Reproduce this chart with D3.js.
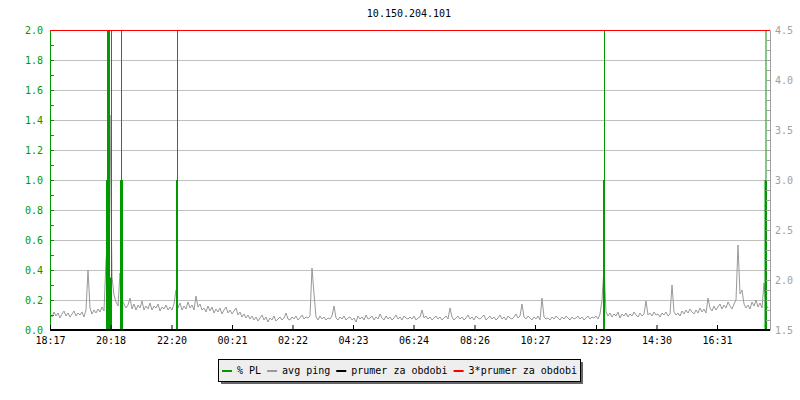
<!DOCTYPE html>
<html>
<head>
<meta charset="utf-8">
<script src="https://cdn.jsdelivr.net/npm/d3@7"></script>
<style>
  body { margin: 0; background: #ffffff; }
  text { font-family: "DejaVu Sans Mono", monospace; font-size: 10px; }
</style>
</head>
<body>
<div id="chart"></div>
<script>
const title = '10.150.204.101';
const startTime = new Date(2020, 0, 1, 18, 17);
const endTime = new Date(2020, 0, 2, 18, 17);

// x tick positions in minutes after start, with their labels
const tickMinutes = [0, 121, 243, 364, 485, 606, 727, 849, 970, 1092, 1213, 1334];
const tickLabels = ['18:17', '20:18', '22:20', '00:21', '02:22', '04:23', '06:24', '08:26', '10:27', '12:29', '14:30', '16:31'];

// packet loss, % (step series, minutes after start)
const plMinutes = [0, 112, 114, 120, 122, 124, 140, 142, 144, 146, 252, 254, 256, 1106, 1108, 1110, 1429, 1431, 1433, 1434, 1440];
const plValues  = [0, 1,   3,   0.35, 3,  0,   1,   3,   1,   0,   1,   3,   0,   1,    3,    0,    1,    3,    1,    0,    0];

// avg ping, ms, one sample every 4 minutes
const pingStepMinutes = 4;
const pingValues = [
  1.66, 1.63, 1.68, 1.64, 1.67, 1.62, 1.66, 1.69, 1.64, 1.67,
  1.63, 1.66, 1.69, 1.64, 1.67, 1.65, 1.68, 1.63, 1.70, 2.10,
  1.72, 1.66, 1.70, 1.67, 1.71, 1.68, 1.73, 1.69, 2.20, 2.43,
  3.65, 2.03, 1.85, 1.78, 1.74, 2.07, 1.80, 1.76, 1.72, 1.75,
  1.82, 1.71, 1.76, 1.70, 1.75, 1.72, 1.79, 1.70, 1.74, 1.71,
  1.77, 1.70, 1.74, 1.72, 1.76, 1.69, 1.73, 1.71, 1.75, 1.70,
  1.73, 1.70, 1.76, 1.90, 1.72, 1.77, 1.70, 1.74, 1.71, 1.78,
  1.72, 1.75, 1.70, 1.84, 1.73, 1.76, 1.70, 1.72, 1.68, 1.74,
  1.69, 1.73, 1.67, 1.71, 1.68, 1.72, 1.66, 1.70, 1.73, 1.67,
  1.70, 1.66, 1.69, 1.72, 1.65, 1.68, 1.63, 1.66, 1.62, 1.65,
  1.61, 1.64, 1.60, 1.63, 1.59, 1.62, 1.65, 1.60, 1.63, 1.58,
  1.62, 1.60, 1.64, 1.59, 1.61, 1.63, 1.60, 1.62, 1.67, 1.61,
  1.60, 1.63, 1.61, 1.64, 1.60, 1.62, 1.65, 1.61, 1.63, 1.62,
  1.64, 2.12, 1.86, 1.63, 1.60, 1.64, 1.61, 1.63, 1.60, 1.62,
  1.61, 1.64, 1.74, 1.62, 1.60, 1.63, 1.61, 1.64, 1.60, 1.62,
  1.63, 1.60, 1.62, 1.58, 1.64, 1.61, 1.63, 1.60, 1.65, 1.61,
  1.62, 1.64, 1.60, 1.63, 1.61, 1.66, 1.62, 1.60, 1.64, 1.61,
  1.63, 1.60, 1.62, 1.65, 1.61, 1.63, 1.60, 1.64, 1.62, 1.61,
  1.63, 1.61, 1.64, 1.60, 1.62, 1.63, 1.70, 1.62, 1.64, 1.61,
  1.63, 1.60, 1.62, 1.64, 1.61, 1.63, 1.60, 1.62, 1.64, 1.61,
  1.72, 1.63, 1.60, 1.62, 1.64, 1.61, 1.63, 1.60, 1.62, 1.65,
  1.61, 1.63, 1.60, 1.64, 1.62, 1.61, 1.63, 1.65, 1.60, 1.62,
  1.64, 1.61, 1.63, 1.60, 1.62, 1.65, 1.61, 1.63, 1.60, 1.64,
  1.62, 1.61, 1.63, 1.66, 1.62, 1.64, 1.76, 1.63, 1.61, 1.64,
  1.62, 1.60, 1.63, 1.61, 1.64, 1.60, 1.82, 1.63, 1.61, 1.62,
  1.60, 1.63, 1.61, 1.64, 1.62, 1.60, 1.63, 1.61, 1.64, 1.62,
  1.60, 1.63, 1.61, 1.62, 1.64, 1.61, 1.63, 1.60, 1.62, 1.64,
  1.61, 1.63, 1.62, 1.64, 1.61, 1.66, 1.80, 2.13, 1.68, 1.64,
  1.67, 1.63, 1.66, 1.64, 1.68, 1.62, 1.66, 1.64, 1.67, 1.63,
  1.66, 1.64, 1.68, 1.65, 1.63, 1.67, 1.64, 1.66, 1.79, 1.65,
  1.67, 1.64, 1.68, 1.65, 1.66, 1.63, 1.67, 1.65, 1.68, 1.64,
  1.66, 1.95, 1.68, 1.65, 1.67, 1.64, 1.69, 1.66, 1.70, 1.67,
  1.71, 1.68, 1.66, 1.70, 1.67, 1.72, 1.68, 1.71, 1.67, 1.82,
  1.72, 1.69, 1.74, 1.70, 1.73, 1.76, 1.71, 1.75, 1.72, 1.78,
  1.74, 1.71, 1.76, 1.80, 2.35, 1.86, 1.90, 1.76, 1.72, 1.75,
  1.71, 1.78, 1.74, 1.80, 1.73, 1.77, 1.72, 1.97, 1.75, 1.72
];

const prumer = 0;        // average PL for the period
const avgPing = 1.66;    // 3*avg ping is drawn on the ping axis (clamped)

const legendLabels = ['% PL', 'avg ping', 'prumer za obdobi', '3*prumer za obdobi'];
const legendColors = ['#009a00', '#999999', '#000000', '#ff0000'];

const width = 800;
const height = 400;
const plotLeft = 50, plotRight = 770, plotTop = 30, plotBottom = 330;
const green = '#009a00';
const axisGray = '#a0a0a0';
const fontStack = '"DejaVu Sans Mono", monospace';

const svg = d3.select('#chart')
  .append('svg')
  .attr('width', width)
  .attr('height', height)
  .style('background', '#ffffff');

const minute = m => new Date(startTime.getTime() + m * 60000);

const x = d3.scaleTime().domain([startTime, endTime]).range([plotLeft, plotRight]);
const yPL = d3.scaleLinear().domain([0, 2]).range([plotBottom, plotTop]);
const yPing = d3.scaleLinear().domain([1.5, 4.5]).range([plotBottom, plotTop]).clamp(true);

svg.append('defs').append('clipPath')
  .attr('id', 'plot')
  .append('rect')
  .attr('x', plotLeft)
  .attr('y', plotTop)
  .attr('width', plotRight - plotLeft)
  .attr('height', plotBottom - plotTop);

svg.append('text')
  .attr('x', 409)
  .attr('y', 17)
  .attr('text-anchor', 'middle')
  .attr('fill', '#000')
  .text(title);

// grid
svg.append('g')
  .selectAll('line')
  .data(d3.range(1, 10).map(i => i * 0.2))
  .enter().append('line')
  .attr('x1', plotLeft)
  .attr('x2', plotRight)
  .attr('y1', d => Math.round(yPL(d)) + 0.5)
  .attr('y2', d => Math.round(yPL(d)) + 0.5)
  .attr('stroke', '#c0c0c0')
  .attr('stroke-width', 1);

const plot = svg.append('g').attr('clip-path', 'url(#plot)');

const pingData = pingValues.map((v, i) => ({ t: minute(i * pingStepMinutes), v }));
plot.append('path')
  .datum(pingData)
  .attr('fill', 'none')
  .attr('stroke', '#999999')
  .attr('stroke-width', 1)
  .attr('d', d3.line().x(d => x(d.t)).y(d => yPing(d.v)));

const plData = plMinutes.map((m, i) => ({ t: minute(m), v: plValues[i] }));
plot.append('path')
  .datum(plData)
  .attr('fill', green)
  .attr('stroke', 'none')
  .attr('d', d3.area().curve(d3.curveStepAfter)
    .x(d => x(d.t))
    .y0(yPL(0))
    .y1(d => yPL(Math.min(d.v, 2.2))));

// left axis (PL)
const leftAxis = svg.append('g')
  .attr('transform', `translate(${plotLeft},0)`)
  .call(d3.axisLeft(yPL)
    .tickValues(d3.range(0, 21).map(i => i / 10))
    .tickSizeInner(-4)
    .tickSizeOuter(0)
    .tickPadding(7)
    .tickFormat((d, i) => i % 2 === 0 ? d3.format('.1f')(d) : ''));
leftAxis.selectAll('path, line').attr('stroke', green);
leftAxis.selectAll('text').attr('fill', green).style('font-size', '10px').style('font-family', fontStack);

// right axis (ping)
const rightAxis = svg.append('g')
  .attr('transform', `translate(${plotRight},0)`)
  .call(d3.axisRight(yPing)
    .tickValues(d3.range(0, 31).map(i => 1.5 + i / 10))
    .tickSizeInner(-4)
    .tickSizeOuter(0)
    .tickPadding(5)
    .tickFormat((d, i) => i % 5 === 0 ? d3.format('.1f')(d) : ''));
rightAxis.selectAll('path, line').attr('stroke', axisGray);
rightAxis.selectAll('text').attr('fill', axisGray).style('font-size', '10px').style('font-family', fontStack);

// bottom axis
const bottomAxis = svg.append('g')
  .attr('transform', `translate(0,${plotBottom})`)
  .call(d3.axisBottom(x)
    .tickValues(tickMinutes.map(minute))
    .tickSizeInner(-5)
    .tickSizeOuter(0)
    .tickPadding(7)
    .tickFormat((d, i) => tickLabels[i]));
bottomAxis.select('.domain').remove();
bottomAxis.selectAll('line').attr('stroke', '#000');
bottomAxis.selectAll('text').attr('fill', '#000').style('font-size', '10px').style('font-family', fontStack);

// period averages
svg.append('line')
  .attr('x1', plotLeft)
  .attr('x2', plotRight)
  .attr('y1', yPL(prumer))
  .attr('y2', yPL(prumer))
  .attr('stroke', '#000')
  .attr('stroke-width', 2);

svg.append('line')
  .attr('x1', plotLeft)
  .attr('x2', plotRight)
  .attr('y1', yPing(3 * avgPing) + 0.5)
  .attr('y2', yPing(3 * avgPing) + 0.5)
  .attr('stroke', '#ff0000')
  .attr('stroke-width', 1);

// legend
const legend = svg.append('g');
legend.append('rect')
  .attr('x', 221).attr('y', 362)
  .attr('width', 362).attr('height', 22)
  .attr('fill', '#666666');
legend.append('rect')
  .attr('x', 218.5).attr('y', 359.5)
  .attr('width', 362).attr('height', 22)
  .attr('fill', '#eeeeee')
  .attr('stroke', '#000');

let lx = 222;
legendLabels.forEach((label, i) => {
  legend.append('line')
    .attr('x1', lx).attr('x2', lx + 10)
    .attr('y1', 371).attr('y2', 371)
    .attr('stroke', legendColors[i])
    .attr('stroke-width', 2);
  const t = legend.append('text')
    .attr('x', lx + 15)
    .attr('y', 374)
    .attr('fill', '#000')
    .text(label);
  lx += 15 + t.node().getComputedTextLength() + 6;
});
</script>
</body>
</html>
